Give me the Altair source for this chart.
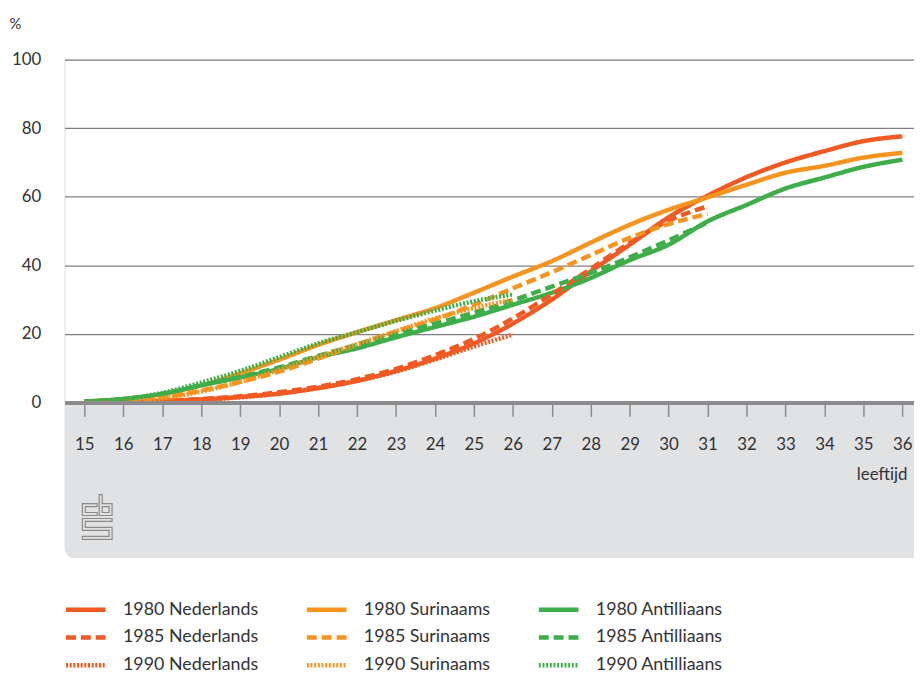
import altair as alt
import pandas as pd

ages = list(range(15, 37))

series_order = [
    "1980 Nederlands", "1980 Surinaams", "1980 Antilliaans",
    "1985 Nederlands", "1985 Surinaams", "1985 Antilliaans",
    "1990 Nederlands", "1990 Surinaams", "1990 Antilliaans",
]

ned_1980 = [0, 0.2, 0.5, 0.9, 1.6, 2.6, 4.2, 6.3, 9.2, 12.8, 17.2, 23, 30, 38.2, 46, 54, 60.3, 65.7, 70, 73.3, 76.2, 77.6]
sur_1980 = [0.2, 1.0, 2.5, 5.0, 8.5, 12.5, 16.8, 20.5, 24, 27.5, 32, 36.7, 41.2, 46.6, 51.8, 56.2, 59.8, 63.5, 67, 69, 71.4, 72.8]
ant_1980 = [0.3, 1.0, 2.5, 5.0, 7.3, 9.8, 13.2, 15.8, 19, 22, 25, 28.5, 32, 36.3, 41.5, 46, 52.8, 57.6, 62.4, 65.6, 68.7, 70.8]

ned_1985 = [0, 0.2, 0.5, 1.0, 1.8, 3.0, 4.6, 6.8, 9.8, 13.8, 18.5, 24.5, 31.5, 39, 46.5, 53, 57.2]
sur_1985 = [0.2, 0.6, 1.5, 3.5, 6.0, 9.0, 12.8, 16.8, 20.7, 24.2, 28.5, 33.3, 38, 43, 48, 52, 55]
ant_1985 = [0.3, 1.0, 2.5, 5.0, 7.5, 10.2, 13.6, 16.8, 20, 23, 26.2, 29.8, 33.8, 37.8, 42.3, 47.3, 52.5]

ned_1990 = [0, 0.1, 0.4, 0.8, 1.5, 2.6, 4.2, 6.3, 9.0, 12.5, 16.3, 19.8]
sur_1990 = [0.1, 0.4, 1.2, 3.2, 6.0, 9.5, 13.3, 17, 20.8, 24.5, 27.5, 30]
ant_1990 = [0.3, 1.0, 2.8, 5.8, 9.2, 13.2, 17.2, 20.5, 23.8, 26.8, 29.5, 31.5]

series_values = {
    "1980 Nederlands": ned_1980, "1980 Surinaams": sur_1980, "1980 Antilliaans": ant_1980,
    "1985 Nederlands": ned_1985, "1985 Surinaams": sur_1985, "1985 Antilliaans": ant_1985,
    "1990 Nederlands": ned_1990, "1990 Surinaams": sur_1990, "1990 Antilliaans": ant_1990,
}

x_ticks = list(range(15, 37))
y_ticks = [0, 20, 40, 60, 80, 100]

RED, ORA, GRN = "#F05A22", "#F7941E", "#3DAE49"
colors = [RED, ORA, GRN] * 3
SOLID, DASH, DOT = [1, 0], [10, 5], [2, 1.7]
dashes = [SOLID] * 3 + [DASH] * 3 + [DOT] * 3

rows = []
for s in series_order:
    for a, v in zip(ages, series_values[s]):
        rows.append({"age": a, "value": v, "series": s})
df = pd.DataFrame(rows)

W, H = 857, 346
FONT = "Lato"
TXT = "#333333"

legend = alt.Legend(
    orient="none", legendX=-1, legendY=545, columns=3, direction="horizontal",
    title=None, symbolType="stroke", symbolSize=1600, symbolStrokeWidth=4.5,
    labelFontSize=18, labelColor=TXT, labelFont=FONT, labelOffset=15,
    columnPadding=46, rowPadding=8, clipHeight=20, padding=0,
    gridAlign="each", labelLimit=300,
)

x_enc = alt.X(
    "age:Q",
    scale=alt.Scale(domain=[14.4903, 36.3], nice=False, zero=False),
    axis=alt.Axis(
        values=x_ticks, format="d", title="leeftijd", grid=False,
        domainColor="#8C8C8E", domainWidth=4, tickColor="#8C8C8E",
        tickWidth=1.5, tickSize=14, labelPadding=20, labelFontSize=17,
        labelColor=TXT, labelFont=FONT, titleFont=FONT, titleFontSize=17,
        titleFontWeight="normal", titleColor=TXT, titleAlign="right",
        titleBaseline="alphabetic", titleX=850, titleY=78, zindex=1,
        labelFlush=False,
    ),
)
y_enc = alt.Y(
    "value:Q",
    scale=alt.Scale(domain=[0, 100], nice=False),
    axis=alt.Axis(
        values=y_ticks, title="%", grid=True, gridColor="#808080",
        gridWidth=1.3, domain=False, ticks=False, tickSize=0,
        labelPadding=24, labelFontSize=17, labelColor=TXT, labelFont=FONT,
        titleAngle=0, titleX=-56, titleY=-31, titleAlign="left",
        titleBaseline="alphabetic", titleFontSize=15,
        titleFontWeight="normal", titleColor=TXT, titleFont=FONT,
    ),
)

lines = alt.Chart(df).mark_line(
    strokeWidth=4.5, interpolate="monotone", strokeCap="butt"
).encode(
    x=x_enc,
    y=y_enc,
    color=alt.Color("series:N", scale=alt.Scale(domain=series_order, range=colors), legend=legend),
    strokeDash=alt.StrokeDash("series:N", scale=alt.Scale(domain=series_order, range=dashes), legend=legend),
    detail="series:N",
)

one = pd.DataFrame({"k": [0]})
panel = alt.Chart(one).mark_rect(
    color="#E1E2E4", cornerRadiusBottomLeft=10
).encode(
    x=alt.value(0), x2=alt.value(W), y=alt.value(H), y2=alt.value(H + 157)
)

logo_path = ("M0 9H15V12H3V18H15V21H0Z "
             "M17 0H20V9H30V21H17Z M20 12H27V18H20Z "
             "M0 24H30V27H3V33H30V45H0V42H27V36H0Z")
logo = alt.Chart(one).mark_point(
    shape=logo_path, size=4, filled=False, stroke="#8A8A8A", strokeWidth=1.2, opacity=1
).encode(x=alt.value(18), y=alt.value(439))

chart = alt.layer(panel, lines, logo).properties(
    width=W, height=H,
    autosize=alt.AutoSizeParams(type="none"),
    padding={"left": 57, "top": 49, "right": 0, "bottom": 280},
).configure_view(stroke=None).configure(font=FONT)

chart.save("out.html", embed_options={"renderer": "svg", "actions": False})
